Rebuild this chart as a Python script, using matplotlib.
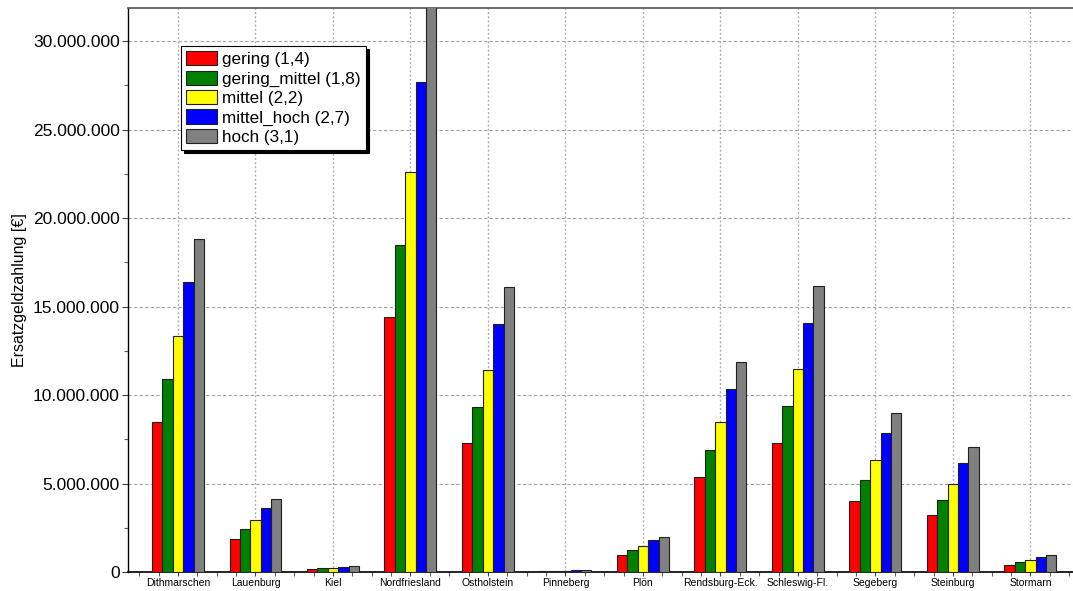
import matplotlib
matplotlib.use("Agg")
import matplotlib.pyplot as plt
import numpy as np
from matplotlib.ticker import MultipleLocator, FuncFormatter

categories = ["Dithmarschen", "Lauenburg", "Kiel", "Nordfriesland", "Ostholstein",
              "Pinneberg", "Plön", "Rendsburg-Eck.", "Schleswig-Fl.", "Segeberg",
              "Steinburg", "Stormarn"]
series_names = ["gering (1,4)", "gering_mittel (1,8)", "mittel (2,2)",
                "mittel_hoch (2,7)", "hoch (3,1)"]
gering = [8.47e6, 1.86e6, 0.15e6, 14.4e6, 7.29e6, 0.03e6, 0.96e6, 5.37e6, 7.29e6, 4.01e6, 3.22e6, 0.42e6]
gering_mittel = [10.9e6, 2.43e6, 0.2e6, 18.5e6, 9.35e6, 0.045e6, 1.24e6, 6.89e6, 9.38e6, 5.2e6, 4.07e6, 0.54e6]
mittel = [13.33e6, 2.94e6, 0.25e6, 22.6e6, 11.43e6, 0.06e6, 1.47e6, 8.47e6, 11.47e6, 6.33e6, 4.97e6, 0.65e6]
mittel_hoch = [16.38e6, 3.62e6, 0.3e6, 27.7e6, 14.03e6, 0.1e6, 1.81e6, 10.34e6, 14.07e6, 7.85e6, 6.16e6, 0.83e6]
hoch = [18.79e6, 4.12e6, 0.36e6, 32.0e6, 16.1e6, 0.12e6, 1.98e6, 11.86e6, 16.16e6, 8.98e6, 7.06e6, 0.94e6]
series = [gering, gering_mittel, mittel, mittel_hoch, hoch]
colors = ["#ff0000", "#008000", "#ffff00", "#0000ff", "#808080"]

plt.rcParams['font.family'] = ['Liberation Sans', 'DejaVu Sans']

fig = plt.figure(figsize=(10.73, 5.91), dpi=100)
ax = fig.add_axes([128/1073, 1 - 572/591, 1 - 128/1073, (572 - 8)/591])

x = np.arange(len(categories))
w = 0.134
for i, (vals, c, name) in enumerate(zip(series, colors, series_names)):
    ax.bar(x + (i - 2) * w, vals, width=w, color=c, edgecolor="#202020",
           linewidth=0.8, label=name, zorder=3)

ax.set_xlim(-0.645, 11.55)
ax.set_ylim(0, 31.87e6)
ax.set_xticks(x)
ax.set_xticklabels(categories, fontsize=7.5)
ax.xaxis.set_minor_locator(MultipleLocator(0.25))
ax.yaxis.set_major_locator(MultipleLocator(5e6))
ax.yaxis.set_minor_locator(MultipleLocator(2.5e6))
ax.yaxis.set_major_formatter(FuncFormatter(lambda v, p: f"{int(v):,}".replace(",", ".")))
ax.tick_params(axis='y', labelsize=12.5, length=4, width=0.8, color="#404040", pad=2)
ax.tick_params(axis='y', which='minor', length=3, width=0.8, color="#606060")
ax.tick_params(axis='x', length=3, width=0.8, color="#404040", pad=1)
ax.tick_params(axis='x', which='minor', length=3, width=0.8, color="#606060")
ax.set_ylabel("Ersatzgeldzahlung [€]", fontsize=11.5, labelpad=4)

ax.grid(axis='y', which='major', linestyle=(0, (3, 2)), color="#a0a0a0", linewidth=0.8, zorder=0)
ax.grid(axis='x', which='major', linestyle=(0, (1.5, 1.5)), color="#b0b0b0", linewidth=1.0, zorder=0)

ax.spines['right'].set_visible(False)
ax.spines['top'].set_color("#555555")
ax.spines['top'].set_linewidth(1.2)
ax.spines['left'].set_color("#000000")
ax.spines['bottom'].set_color("#000000")
ax.spines['left'].set_linewidth(1.0)
ax.spines['bottom'].set_linewidth(1.2)

leg = ax.legend(loc='upper left', bbox_to_anchor=(181/1073, 1 - 46/591),
                bbox_transform=fig.transFigure, borderaxespad=0, fontsize=12.3,
                fancybox=False, shadow={'color': 'black', 'alpha': 1.0},
                framealpha=1, edgecolor='black', handlelength=1.8, handleheight=0.9,
                labelspacing=0.2, handletextpad=0.3, borderpad=0.3)
leg.get_frame().set_linewidth(0.8)
leg.set_zorder(5)

fig.savefig("out.png", dpi=100)
